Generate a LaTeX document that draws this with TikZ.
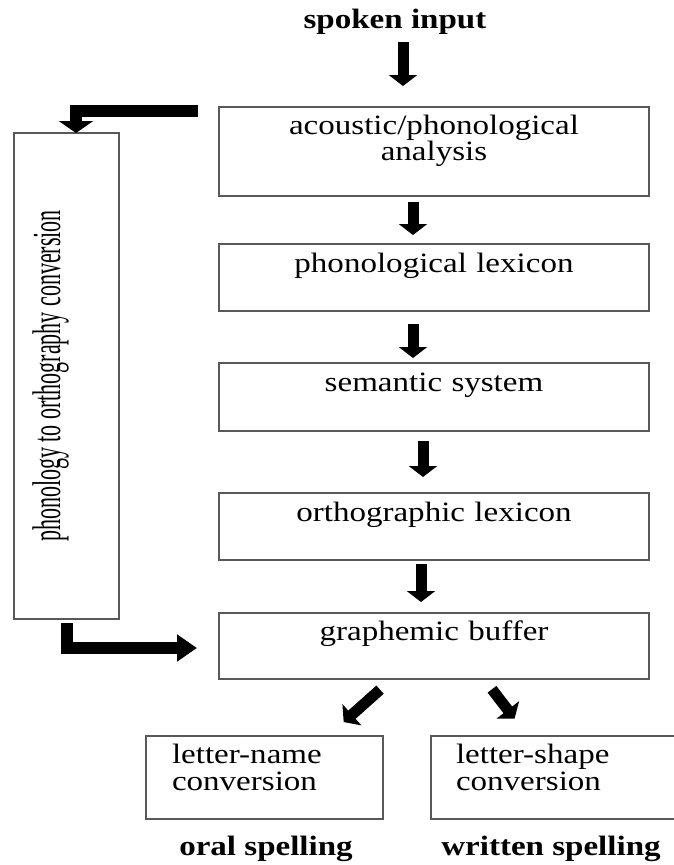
\documentclass[tikz,border=0pt]{standalone}
\usepackage{fontspec}
\setmainfont{Liberation Serif}[FakeStretch=1.18]
\newfontfamily\sidefont{Liberation Serif}[FakeStretch=0.55]
\usepackage{tikz}
\usetikzlibrary{arrows.meta, positioning, calc}
\tikzset{
         mybox/.style={draw=black!65, line width=1.4pt, inner xsep=0pt, inner ysep=0pt, outer sep=0pt, text width=430pt, align=center, font=\fontsize{28}{25}\selectfont, text height=28pt, text depth=39pt},
         mysmall/.style={draw=black!65, line width=1.4pt, inner xsep=26pt, inner ysep=0pt, outer sep=0pt, align=left, font=\fontsize{28}{27}\selectfont, text height=27pt, text depth=56pt, anchor=north west},
         myside/.style={draw=black!65, line width=1.4pt, rotate=90, minimum width=486pt, inner ysep=0pt, outer sep=0pt, text height=46pt, text depth=59pt, font=\sidefont\fontsize{40}{44}\selectfont},
         mytitle/.style={inner sep=0pt, outer sep=0pt, anchor=base, font=\fontsize{28}{30}\selectfont\bfseries},
         myarrow/.style={line width=11pt, -{Triangle[length=11pt,width=28pt]}},
         myelbow/.style={line width=12pt, line join=miter, -{Triangle[length=12pt,width=34pt]}}
      }
\begin{document}
\begin{tikzpicture}[x=1pt,y=1pt]
\useasboundingbox (0,0) rectangle (673,-865);
\node[mytitle] (spoken) at (395,-28) {spoken input};
\node[mybox, anchor=north, text height=27pt, text depth=62pt] (acoustic) at (434,-107) {acoustic/phonological\\analysis};
\node[mybox, below=48pt of acoustic] (phonlex) {phonological lexicon};
\node[mybox, text depth=40pt, below=52pt of phonlex] (semantic) {semantic system};
\node[mybox, below=62pt of semantic] (ortholex) {orthographic lexicon};
\node[mybox, text height=27pt, below=53pt of ortholex] (graphbuf) {graphemic buffer};
\node[myside] (ptoo) at (66.5,-376) {phonology to orthography conversion};
\node[mysmall, text width=185pt] (namebox) at (146,-736) {letter-name\\conversion};
\node[mysmall, text width=207pt, inner xsep=25pt] (shapebox) at (431,-736) {letter-shape\\conversion};
\node[mytitle] (oral) at (266,-855) {oral spelling};
\node[mytitle] (written) at (551,-855) {written spelling};

\coordinate (spokenout) at ([xshift=8pt]spoken.south);
\draw[myarrow, shorten <=8pt, shorten >=21pt] (spokenout) -- (spokenout |- acoustic.north);
\draw[myarrow, shorten <=6pt, shorten >=9pt] ([xshift=-21pt]acoustic.south) -- ([xshift=-21pt]phonlex.north);
\draw[myarrow, shorten <=13pt, shorten >=5pt] ([xshift=-21pt]phonlex.south) -- ([xshift=-21pt]semantic.north);
\draw[myarrow, shorten <=10pt, shorten >=16pt] ([xshift=-11pt]semantic.south) -- ([xshift=-11pt]ortholex.north);
\draw[myarrow, shorten <=4pt, shorten >=11pt] ([xshift=-13pt]ortholex.south) -- ([xshift=-13pt]graphbuf.north);
\draw[myarrow, shorten <=16pt, shorten >=21pt] ([xshift=-42pt]graphbuf.south) -- ([xshift=63.5pt]namebox.north);
\draw[myarrow, shorten <=13pt, shorten >=22pt] ([xshift=50pt]graphbuf.south) -- ([xshift=-31.5pt]shapebox.north);
\draw[myelbow, shorten <=21pt] ([yshift=-3.5pt]acoustic.north west) -| ([xshift=9.5pt]ptoo.east);
\draw[myelbow, -{Triangle[length=20pt,width=26pt]}, shorten <=4pt, shorten >=22pt] (ptoo.west) |- ([yshift=-2pt]graphbuf.west);
\end{tikzpicture}
\end{document}
